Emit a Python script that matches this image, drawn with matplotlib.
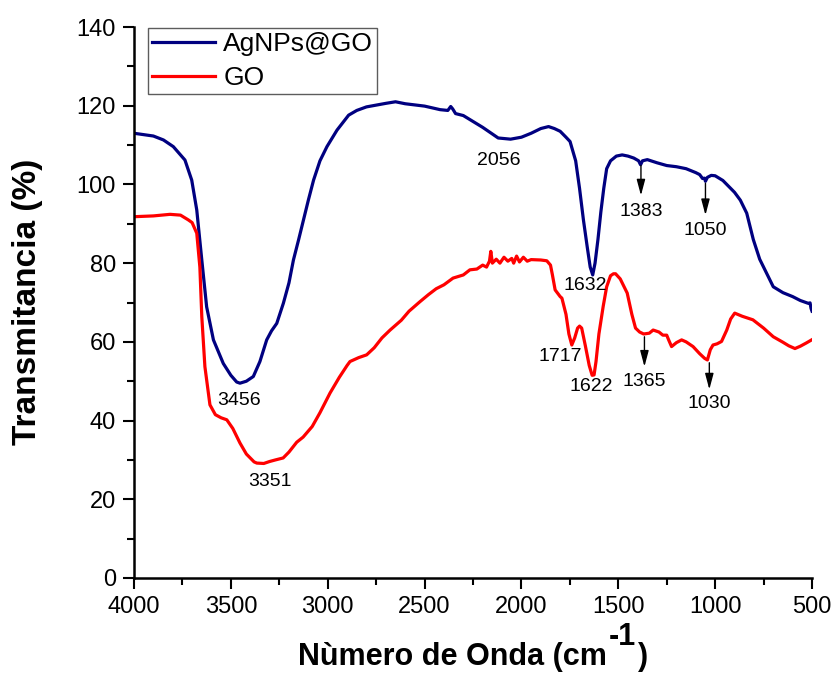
import numpy as np
import matplotlib
matplotlib.use('Agg')
import matplotlib.pyplot as plt

plt.rcParams['font.family'] = ['Liberation Sans', 'DejaVu Sans']

# AgNPs@GO spectrum (wavenumber, transmittance)
wn_ag = [4000, 3900, 3848, 3797, 3737, 3702, 3676, 3650, 3625, 3590, 3539, 3500,
         3470, 3453, 3420, 3384, 3350, 3315, 3290, 3263, 3229, 3200, 3177, 3150,
         3125, 3100, 3073, 3040, 3004, 2952, 2892, 2850, 2800, 2700, 2650, 2600, 2500,
         2420, 2380, 2365, 2355, 2340, 2300, 2200, 2120, 2056, 2000, 1950, 1900,
         1860, 1830, 1800, 1770, 1749, 1720, 1700, 1680, 1660, 1645, 1632, 1620,
         1605, 1590, 1575, 1560, 1540, 1510, 1480, 1450, 1420, 1395, 1385, 1375,
         1350, 1300, 1250, 1200, 1150, 1100, 1080, 1065, 1055, 1050, 1040, 1020,
         1000, 960, 930, 900, 870, 837, 803, 770, 734, 700, 650, 600, 560, 520,
         510, 505, 500]
t_ag = [113.0, 112.3, 111.3, 109.6, 106.2, 101.1, 93.5, 80.8, 68.9, 60.5, 54.5, 51.5,
        49.8, 49.5, 50.0, 51.2, 55.0, 60.5, 62.8, 64.7, 69.8, 75.0, 80.8, 86.0,
        91.0, 96.0, 101.1, 106.0, 109.6, 113.8, 117.6, 118.8, 119.7, 120.6, 121.0, 120.5, 119.9,
        119.0, 118.8, 119.8, 119.2, 118.0, 117.5, 114.5, 111.8, 111.5, 112.0, 113.0, 114.2,
        114.7, 114.2, 113.5, 112.0, 110.9, 106.0, 99.0, 91.0, 84.0, 79.0, 77.0, 80.0,
        86.0, 93.0, 99.0, 104.0, 106.0, 107.2, 107.5, 107.2, 106.7, 106.0, 105.0, 106.0,
        106.3, 105.5, 104.8, 104.5, 104.0, 103.0, 102.5, 101.5, 101.6, 100.8, 101.8, 102.3,
        102.2, 101.0, 99.5, 98.0, 96.0, 92.7, 86.0, 81.0, 77.4, 74.0, 72.5, 71.5, 70.5, 69.8,
        69.9, 68.5, 67.8]

# GO spectrum
wn_go = [4000, 3900, 3814, 3760, 3720, 3700, 3676, 3660, 3650, 3634, 3608, 3580,
         3550, 3521, 3490, 3453, 3420, 3380, 3366, 3330, 3300, 3270, 3230, 3200,
         3160, 3127, 3080, 3040, 2988, 2940, 2900, 2885, 2840, 2799, 2760, 2720,
         2678, 2620, 2580, 2524, 2480, 2440, 2400, 2353, 2300, 2266, 2230, 2200,
         2180, 2165, 2158, 2150, 2130, 2111, 2090, 2070, 2050, 2040, 2025, 2010,
         1990, 1970, 1950, 1900, 1869, 1850, 1840, 1826, 1800, 1791, 1770, 1755,
         1740, 1725, 1710, 1700, 1689, 1670, 1650, 1635, 1625, 1615, 1600, 1578,
         1560, 1540, 1525, 1514, 1490, 1454, 1430, 1411, 1390, 1369, 1340, 1320,
         1290, 1270, 1250, 1240, 1225, 1200, 1173, 1150, 1114, 1080, 1054, 1040,
         1025, 1011, 990, 967, 940, 920, 899, 860, 805, 750, 700, 650, 620, 588,
         560, 530, 502]
t_go = [91.8, 92.0, 92.4, 92.2, 91.0, 90.3, 87.6, 79.0, 66.4, 53.7, 44.0, 41.5,
        40.7, 40.2, 38.0, 34.3, 31.5, 29.5, 29.2, 29.1, 29.6, 30.0, 30.5, 32.0,
        34.5, 35.8, 38.5, 42.0, 47.0, 51.0, 54.0, 55.0, 56.0, 56.7, 58.5, 61.0,
        63.0, 65.5, 67.8, 70.2, 72.0, 73.5, 74.5, 76.2, 77.0, 78.3, 78.5, 79.5,
        79.0, 80.5, 83.0, 80.0, 81.0, 80.0, 81.5, 80.5, 81.2, 80.0, 81.8, 80.3,
        81.5, 80.5, 80.9, 80.8, 80.6, 79.5, 77.0, 73.2, 71.5, 71.1, 67.0, 62.0,
        59.2, 61.0, 63.5, 64.0, 63.5, 59.0, 54.0, 51.5, 51.6, 55.0, 62.0, 69.0,
        74.0, 76.8, 77.3, 77.3, 76.0, 72.4, 67.0, 63.5, 62.5, 62.0, 62.2, 63.0,
        62.5, 61.7, 61.7, 60.5, 58.8, 59.8, 60.5, 60.0, 58.8, 57.0, 55.8, 55.4,
        58.0, 59.2, 59.5, 60.1, 63.0, 65.8, 67.3, 66.5, 65.6, 63.5, 61.3, 59.9, 59.0, 58.3,
        58.9, 59.7, 60.5]

# peak labels: (text, x, y of text)
plain_labels = [('3456', 3456, 45.2), ('3351', 3298, 24.4), ('2056', 2117, 106.2),
                ('1632', 1670, 74.4), ('1717', 1801, 56.2), ('1622', 1637, 48.6)]
# arrowed labels: (text, x, y start on curve, y tip, y of text)
arrow_labels = [('1383', 1383, 105.5, 96.5, 93.1), ('1050', 1050, 101.0, 91.5, 88.4),
                ('1365', 1365, 62.0, 53.0, 49.9), ('1030', 1030, 55.4, 47.2, 44.4)]

W, H = 835, 683
fig = plt.figure(figsize=(W / 100, H / 100), dpi=100)
ax = fig.add_axes([134 / W, 1 - 578 / H, 678 / W, 551 / H])

ax.plot(wn_ag, t_ag, color='#000080', lw=2.3, label='AgNPs@GO')
ax.plot(wn_go, t_go, color='#ff0000', lw=2.3, label='GO')

ax.set_xlim(4000, 500)
ax.set_ylim(0, 140)
ax.set_xticks(np.arange(4000, 499, -500))
ax.set_xticks(np.arange(3750, 500, -500), minor=True)
ax.set_yticks(np.arange(0, 141, 20))
ax.set_yticks(np.arange(10, 140, 20), minor=True)

for s in ['top', 'right']:
    ax.spines[s].set_visible(False)
for s in ['left', 'bottom']:
    ax.spines[s].set_linewidth(1.8)
ax.tick_params(which='major', direction='out', length=8, width=1.5, labelsize=17, pad=5)
ax.tick_params(which='minor', direction='out', length=5, width=1.5)

for txt, x, y in plain_labels:
    ax.text(x, y, txt, ha='center', va='center', fontsize=14)
for txt, x, y0, y1, yt in arrow_labels:
    ax.annotate('', xy=(x, y1), xytext=(x, y0),
                arrowprops=dict(arrowstyle='-|>,head_length=0.6,head_width=0.16',
                                color='k', lw=1.0, mutation_scale=16))
    ax.text(x, yt, txt, ha='center', va='center', fontsize=14)

# y label
fig.text(28 / W, 1 - 302 / H, 'Transmitancia (%)', rotation=90, ha='center', va='center',
         fontsize=24, fontweight='bold')

# x label with full-size raised exponent
base_y = 1 - 665 / H
kw = dict(fontsize=22, fontweight='bold', va='baseline', ha='left')
p1 = fig.text(0, base_y, 'Nùmero de Onda (cm', **kw)
p2 = fig.text(0, base_y + 20 / H, '-1', **kw)
p3 = fig.text(0, base_y, ')', **kw)
r = fig.canvas.get_renderer()
widths = [p.get_window_extent(r).width for p in (p1, p2, p3)]
gaps = [1, 2, 0]
x0 = 473 - (sum(widths) + sum(gaps)) / 2
for p, w, g in zip((p1, p2, p3), widths, gaps):
    p.set_x(x0 / W)
    x0 += w + g

leg = ax.legend(loc='upper left', bbox_to_anchor=(148 / W, 1 - 28 / H),
                bbox_transform=fig.transFigure, fontsize=19, frameon=True, fancybox=False,
                handlelength=2.4, borderpad=0.15, labelspacing=0.38, handletextpad=0.3,
                borderaxespad=0)
leg.get_frame().set_edgecolor('#333333')
leg.get_frame().set_linewidth(1.0)

fig.savefig('out.png', dpi=100)
